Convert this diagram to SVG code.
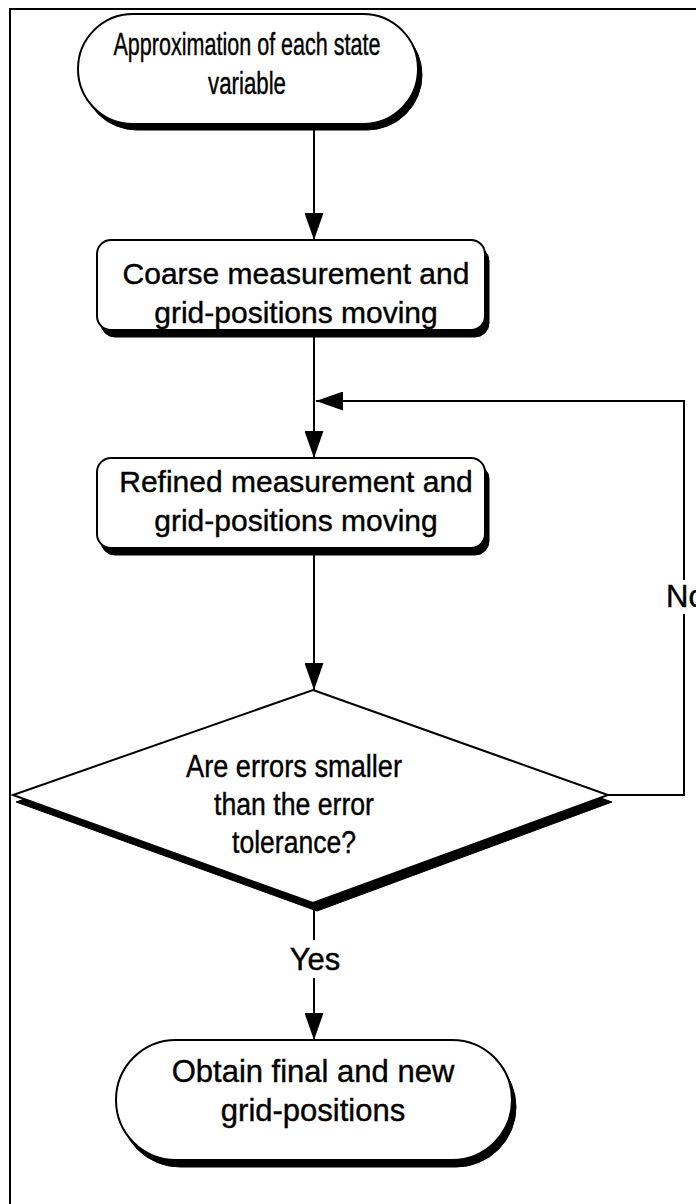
<svg xmlns="http://www.w3.org/2000/svg" width="696" height="1204" viewBox="0 0 696 1204">
<defs>
<style>
.frame{fill:none;stroke:#000;stroke-width:2}
.shape{fill:#fff;stroke:#000;stroke-width:2}
.shadow{fill:#000;stroke:#000;stroke-width:1}
.conn{fill:none;stroke:#000;stroke-width:2}
.t{font-family:"Liberation Sans",Arial,sans-serif;font-size:30px;fill:#000;stroke:#000;stroke-width:0.4;text-anchor:middle}
.tn{font-size:31px}
</style>
<marker id="arr" markerUnits="userSpaceOnUse" markerWidth="27" markerHeight="19" refX="27" refY="9.5" orient="auto">
<path d="M0,0 L27,9.5 L0,19 z" fill="#000"/>
</marker>
</defs>
<rect width="696" height="1204" fill="#fff"/>
<rect class="frame" x="10" y="9" width="720" height="1220"/>

<g id="connectors">
<line class="conn" x1="314" y1="130" x2="314" y2="240" marker-end="url(#arr)"/>
<line class="conn" x1="314" y1="336" x2="314" y2="458" marker-end="url(#arr)"/>
<line class="conn" x1="314" y1="554" x2="314" y2="690" marker-end="url(#arr)"/>
<path class="conn" d="M608,795 H684 V614"/>
<path class="conn" d="M684,580 V401 H316" marker-end="url(#arr)"/>
<text class="t tn" x="666" y="607" style="text-anchor:start">No</text>
<line class="conn" x1="314" y1="905" x2="314" y2="940"/>
<text class="t tn" x="315" y="970">Yes</text>
<line class="conn" x1="314" y1="978" x2="314" y2="1040" marker-end="url(#arr)"/>
</g>

<g id="start">
<rect class="shadow" x="82" y="20" width="340" height="110" rx="55" ry="55"/>
<rect class="shape" x="78" y="14" width="340" height="110" rx="55" ry="55"/>
<text class="t tn" x="247" y="55" textLength="267" lengthAdjust="spacingAndGlyphs">Approximation of each state</text>
<text class="t tn" x="247" y="94" textLength="78" lengthAdjust="spacingAndGlyphs">variable</text>
</g>

<g id="coarse">
<rect class="shadow" x="101" y="247" width="388" height="90" rx="14" ry="14"/>
<rect class="shape" x="97" y="240" width="388" height="90" rx="14" ry="14"/>
<text class="t" x="296" y="284">Coarse measurement and</text>
<text class="t" x="296" y="323">grid-positions moving</text>
</g>

<g id="refined">
<rect class="shadow" x="101" y="465" width="388" height="90" rx="14" ry="14"/>
<rect class="shape" x="97" y="458" width="388" height="90" rx="14" ry="14"/>
<text class="t" x="296" y="492">Refined measurement and</text>
<text class="t" x="296" y="531">grid-positions moving</text>
</g>

<g id="decision">
<polygon class="shadow" points="317,697 612,802 317,911 16,802"/>
<polygon class="shape" points="313,690 608,795 313,903 13,795"/>
<text class="t tn" x="294" y="777" textLength="216" lengthAdjust="spacingAndGlyphs">Are errors smaller</text>
<text class="t tn" x="294" y="815" textLength="160" lengthAdjust="spacingAndGlyphs">than the error</text>
<text class="t tn" x="294" y="853" textLength="124" lengthAdjust="spacingAndGlyphs">tolerance?</text>
</g>

<g id="end">
<rect class="shadow" x="120" y="1047" width="396" height="120" rx="60" ry="60"/>
<rect class="shape" x="116" y="1040" width="396" height="120" rx="60" ry="60"/>
<text class="t tn" x="313" y="1082">Obtain final and new</text>
<text class="t tn" x="313" y="1121">grid-positions</text>
</g>
</svg>
